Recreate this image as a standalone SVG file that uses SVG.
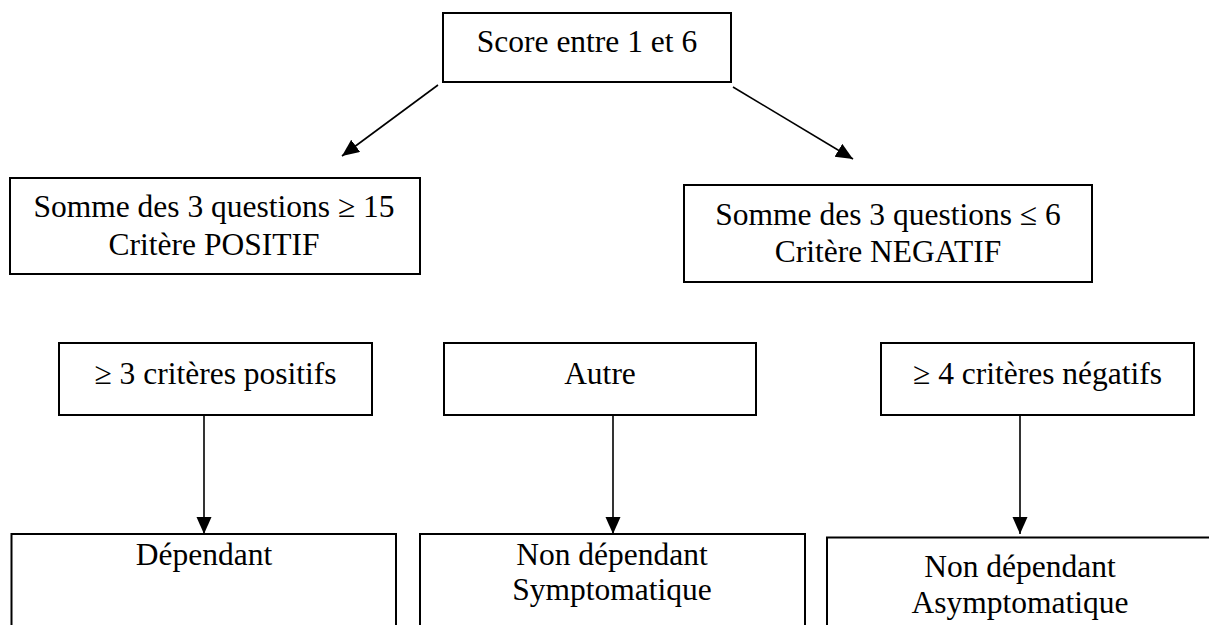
<svg xmlns="http://www.w3.org/2000/svg" width="1209" height="625" viewBox="0 0 1209 625">
<defs>
<marker id="ah" markerUnits="userSpaceOnUse" markerWidth="18" markerHeight="16" refX="17" refY="7.5" orient="auto">
<path d="M0,0 L17,7.5 L0,15 Z" fill="#000"/>
</marker>
<style>
.box{fill:#fff;stroke:#000;stroke-width:2}
.t{font-family:"Liberation Serif","Times New Roman",serif;font-size:31.5px;fill:#000;text-anchor:middle}
.c{stroke:#000;stroke-width:1.6;fill:none;marker-end:url(#ah)}
</style>
</defs>
<rect width="1209" height="625" fill="#fff"/>
<g id="connectors">
<line class="c" x1="438" y1="85" x2="342" y2="156"/>
<line class="c" x1="733" y1="87" x2="853" y2="159"/>
<line class="c" x1="204" y1="415" x2="204" y2="534"/>
<line class="c" x1="613" y1="415" x2="613" y2="534"/>
<line class="c" x1="1020" y1="415" x2="1020" y2="534"/>
</g>
<g id="score">
<rect class="box" x="443" y="13" width="288" height="69"/>
<text class="t" x="587" y="52">Score entre 1 et 6</text>
</g>
<g id="positif">
<rect class="box" x="10" y="178" width="410" height="96"/>
<text class="t" x="214" y="217">Somme des 3 questions ≥ 15</text>
<text class="t" x="214" y="255">Critère POSITIF</text>
</g>
<g id="negatif">
<rect class="box" x="684" y="185" width="408" height="97"/>
<text class="t" x="888" y="225">Somme des 3 questions ≤ 6</text>
<text class="t" x="888" y="262">Critère NEGATIF</text>
</g>
<g id="crit-pos">
<rect class="box" x="59" y="343" width="313" height="72"/>
<text class="t" x="215.5" y="384">≥ 3 critères positifs</text>
</g>
<g id="autre">
<rect class="box" x="444" y="343" width="312" height="72"/>
<text class="t" x="600" y="384">Autre</text>
</g>
<g id="crit-neg">
<rect class="box" x="881" y="343" width="313" height="72"/>
<text class="t" x="1037.5" y="384">≥ 4 critères négatifs</text>
</g>
<g id="dependant">
<rect class="box" x="11.5" y="534" width="384.5" height="100"/>
<text class="t" x="204" y="565">Dépendant</text>
</g>
<g id="symptomatique">
<rect class="box" x="420" y="534" width="385" height="100"/>
<text class="t" x="612" y="565">Non dépendant</text>
<text class="t" x="612" y="600">Symptomatique</text>
</g>
<g id="asymptomatique">
<rect class="box" x="827" y="537.5" width="400" height="100"/>
<text class="t" x="1020" y="577">Non dépendant</text>
<text class="t" x="1020" y="613">Asymptomatique</text>
</g>
</svg>
